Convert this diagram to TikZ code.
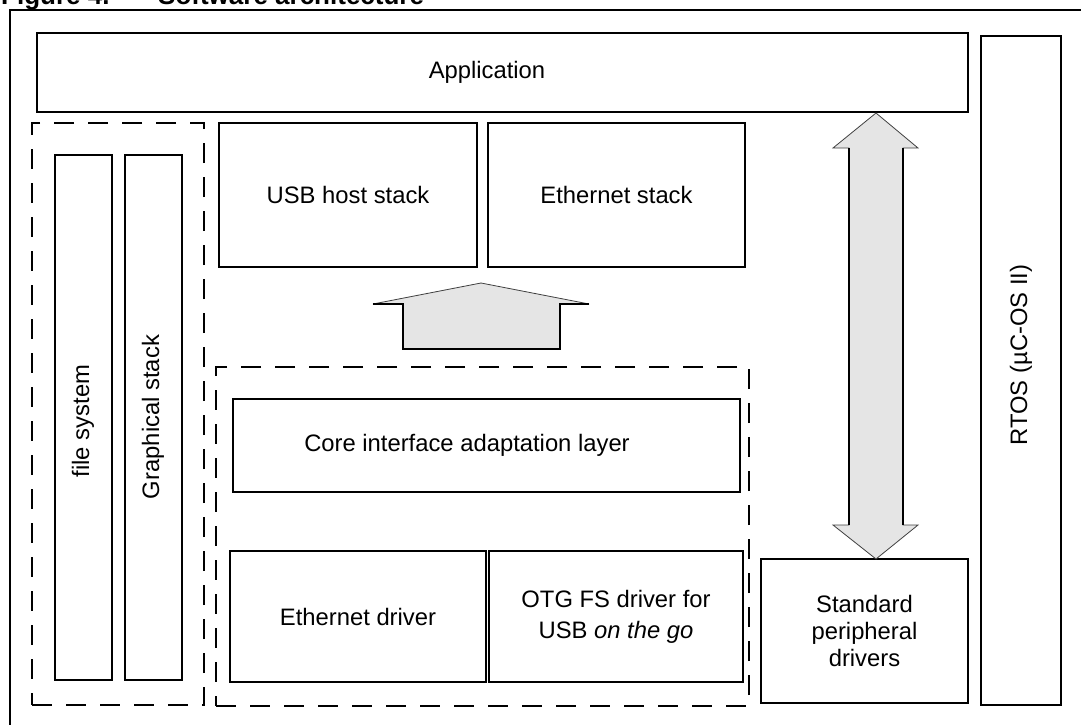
\documentclass[tikz,border=0pt]{standalone}
\usepackage{fontspec}
\setmainfont{Liberation Sans}
\usetikzlibrary{fit}
\begin{document}
\begin{tikzpicture}[x=1pt,y=-1pt,
  box/.style={draw, line width=2pt, inner sep=0pt, rectangle},
  dbox/.style={draw, line width=2pt, dash pattern=on 20pt off 14pt, inner sep=0pt, rectangle},
  lbl/.style={font=\fontsize{23.8}{27}\selectfont, align=center, inner sep=0pt},
  ttl/.style={font=\bfseries\fontsize{26}{30}\selectfont, inner sep=0pt, anchor=base west},
  blockarrow/.style={fill=black!10, draw=black!75, line width=0.8pt, line join=miter},
  shaft/.style={line width=2pt}]
\useasboundingbox (0,0) rectangle (1081,725);
\clip (0,0) rectangle (1081,725);
% title (cut off at the top)
\node[ttl] (t1) at (1,5) {Figure 4.};
\node[ttl] (t2) at (158,5) {Software architecture};
% outer frame
\draw[line width=2pt] (10,760) -- (10,10) -- (1100,10);
% boxes
\node[box, fit={(37,33) (968,112)}] (app) {};
\node[lbl] (applbl) at (487,72) {Application};
\node[box, fit={(981,36) (1061,705)}] (rtos) {};
\node[lbl, rotate=90] (rtoslbl) at (1021,355) {RTOS (µC-OS II)};
\node[dbox, fit={(32,123) (204,705)}] (ldash) {};
\node[box, fit={(55,155) (112,680)}] (fs) {};
\node[lbl, rotate=90] (fslbl) at (83,421) {file system};
\node[box, fit={(125,155) (182,680)}] (gs) {};
\node[lbl, rotate=90] (gslbl) at (153,417) {Graphical stack};
\node[box, fit={(219,123) (477,267)}] (usb) {};
\node[lbl] (usblbl) at (usb.center) {USB host stack};
\node[box, fit={(488,123) (745,267)}] (eth) {};
\node[lbl] (ethlbl) at (eth.center) {Ethernet stack};
\node[dbox, fit={(216,367) (749,706)}] (cdash) {};
\node[box, fit={(233,399) (740,492)}] (core) {};
\node[lbl] (corelbl) at (467,445) {Core interface adaptation layer};
\node[box, fit={(230,551) (486,682)}] (ethd) {};
\node[lbl] (ethdlbl) at (ethd.center) {Ethernet driver};
\node[box, fit={(489,551) (743,682)}] (otg) {};
\node[lbl, font=\fontsize{23.8}{31}\selectfont] (otglbl) at (otg.center) {OTG FS driver for\\USB \textit{on the go}};
\node[box, fit={(761,559) (968,703)}] (std) {};
\node[lbl] (stdlbl) at (std.center) {Standard\\peripheral\\drivers};
% up block arrow
\filldraw[blockarrow] (481,283) -- (589,304) -- (560,304) -- (560,349) -- (403,349) -- (403,304) -- (373,304) -- cycle;
\draw[shaft] (589,304) -- (560,304) -- (560,349) -- (403,349) -- (403,304) -- (373,304);
% double block arrow
\filldraw[blockarrow] (876,113) -- (918,148) -- (903,148) -- (903,525) -- (918,525) -- (876,559) -- (833,525) -- (849,525) -- (849,148) -- (833,148) -- cycle;
\draw[shaft] (903,148) -- (903,525);
\draw[shaft] (849,148) -- (849,525);
\end{tikzpicture}
\end{document}
